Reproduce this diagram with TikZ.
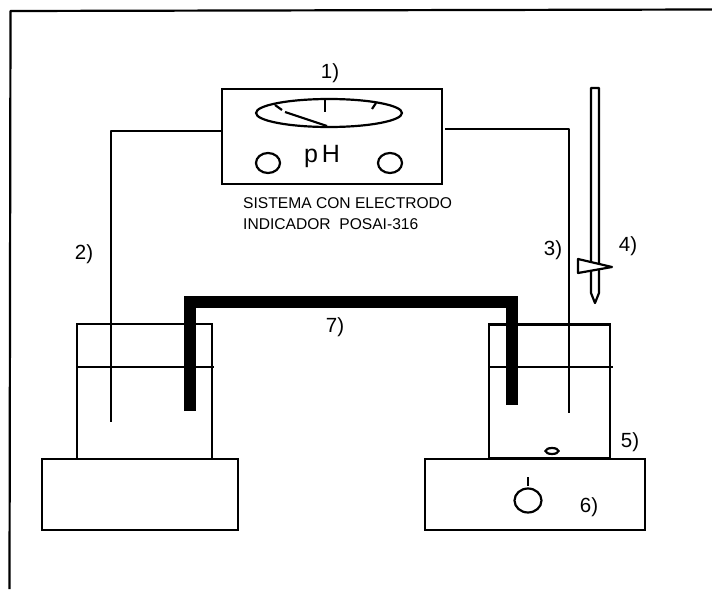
\documentclass[tikz,border=0pt]{standalone}
\usepackage{fontspec}
\setmainfont{Liberation Sans}
\tikzset{
  x=1pt,y=-1pt,
  thin line/.style={draw=black,line width=2pt,line join=round},
  wire/.style={draw=black,line width=2.2pt,line join=round},
  box/.style={draw=black,line width=2.2pt,fill=none,inner sep=0pt,outer sep=0pt,rectangle},
  oval/.style={draw=black,line width=2.2pt,ellipse,inner sep=0pt,outer sep=0pt},
  bridge/.style={draw=black,line width=12pt,line join=miter},
  lab/.style={font=\fontsize{20.5}{22}\selectfont,inner sep=0pt},
  cap text/.style={font=\fontsize{15.6}{17}\selectfont,inner sep=0pt,anchor=west}
}
\usetikzlibrary{shapes.geometric}
\begin{document}
\begin{tikzpicture}
\useasboundingbox (0,0) rectangle (712,589);
% frame
\coordinate (f1) at (9.5,589);
\coordinate (f2) at (10.5,11);
\coordinate (f3) at (712,9.5);
\draw[wire] (f1) -- (f2) -- (f3);
% meter
\node[box,minimum width=220pt,minimum height=95pt] (meter) at (332,136.5) {};
\node[oval,minimum width=146pt,minimum height=28pt] (dial) at (329,113) {};
\coordinate (n1) at (285,112); \coordinate (n2) at (327,126);
\draw[wire] (n1) -- (n2);
\coordinate (t1a) at (275,105); \coordinate (t1b) at (282,110);
\coordinate (t2a) at (325,100); \coordinate (t2b) at (325,112);
\coordinate (t3a) at (376,103); \coordinate (t3b) at (372,109);
\draw[wire] (t1a) -- (t1b); \draw[wire] (t2a) -- (t2b); \draw[wire] (t3a) -- (t3b);
\node[oval,minimum width=24pt,minimum height=20pt] (kl) at (268,163) {};
\node[oval,minimum width=24pt,minimum height=20pt] (kr) at (390,163) {};
\node[font=\fontsize{25}{27}\selectfont,inner sep=0pt] (ph) at (322,156) {p\hspace{4pt}H};
\node[cap text] (c1) at (243,203) {SISTEMA CON ELECTRODO};
\node[cap text] (c2) at (243,224) {INDICADOR\ \ POSAI-316};
\node[lab] (l1) at (330,73) {1)};
% left beaker
\node[box,minimum width=135pt,minimum height=135pt] (bl) at (144.5,391.5) {};
\node[box,minimum width=196pt,minimum height=71pt] (pl) at (140,494.5) {};
\coordinate (ll1) at (77,367); \coordinate (ll2) at (214,367);
\draw[thin line] (ll1) -- (ll2);
\coordinate (we1) at (111,422); \coordinate (wc1) at (111,131);
\draw[wire] (meter.west |- wc1) -- (wc1) -- (we1);
% right beaker
\node[box,minimum width=121pt,minimum height=134pt] (br) at (549.5,391.5) {};
\node[box,minimum width=220pt,minimum height=71pt] (pr) at (535,494.5) {};
\coordinate (lr1) at (489,367); \coordinate (lr2) at (613,367);
\draw[thin line] (lr1) -- (lr2);
\coordinate (ws) at (445,129); \coordinate (wc2) at (569,129); \coordinate (we2) at (569,413);
\draw[wire] (ws) -- (wc2) -- (we2);
\node[oval,minimum width=13pt,minimum height=6pt] (stir) at (552,451) {};
\node[oval,minimum width=27pt,minimum height=24pt] (knob) at (528,500.5) {};
\coordinate (k1) at (528,477); \coordinate (k2) at (528,486);
\draw[wire] (k1) -- (k2);
% salt bridge
\coordinate (s1) at (190,411); \coordinate (s2) at (190,301.5);
\coordinate (s3) at (512,301.5); \coordinate (s4) at (512,405);
\draw[bridge] (s1) -- (s2) -- (s3) -- (s4);
% electrode
\coordinate (e1) at (591,293); \coordinate (e2) at (591,88);
\coordinate (e3) at (599,88); \coordinate (e4) at (599,293);
\coordinate (e5) at (595,303);
\draw[wire,fill=white] (e1) -- (e2) -- (e3) -- (e4) -- (e5) -- cycle;
\coordinate (e6) at (578,259); \coordinate (e7) at (578,273); \coordinate (e8) at (612,267);
\draw[wire,fill=white] (e6) -- (e8) -- (e7) -- cycle;
% labels
\node[lab] (l2) at (84,254) {2)};
\node[lab] (l3) at (553,250) {3)};
\node[lab] (l4) at (628,246) {4)};
\node[lab] (l5) at (630,442) {5)};
\node[lab] (l6) at (589,507) {6)};
\node[lab] (l7) at (335,327) {7)};
\end{tikzpicture}
\end{document}
